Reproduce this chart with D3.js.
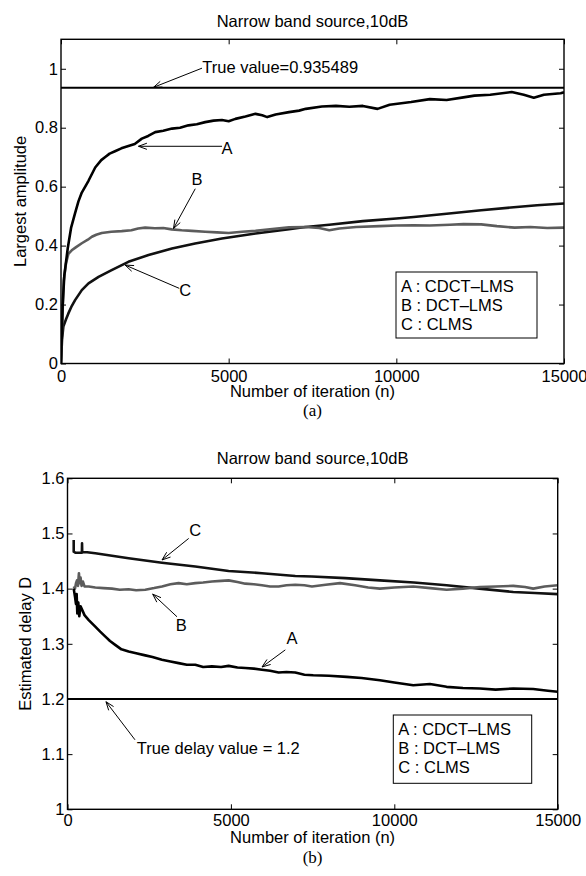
<!DOCTYPE html>
<html><head><meta charset="utf-8">
<script src="https://cdn.jsdelivr.net/npm/d3@7"></script>
<style>
html,body{margin:0;padding:0;background:#fff;}
svg text{font-family:"Liberation Sans",Arial,Helvetica,sans-serif;}
</style></head>
<body>
<svg id="c" width="586" height="876"></svg>
<script>
// ---------- DATA ----------
const chartTitle = "Narrow band source,10dB";
const xLabel = "Number of iteration (n)";
const xTicks = [0, 5000, 10000, 15000];
const legendLabels = ["A : CDCT\u2013LMS", "B : DCT\u2013LMS", "C : CLMS"];

// (a) Largest amplitude
const topYTicks = [0, 0.2, 0.4, 0.6, 0.8, 1];
const topTrueValue = 0.935489;
const topA_n = [0,50,100,200,300,420,520,620,820,1020,1200,1310,1450,1610,1800,2010,2200,2410,2600,2810,3050,3310,3550,3800,4050,4300,4550,4800,5000,5200,5500,5800,6000,6150,6400,6800,7100,7300,7780,8200,8600,9000,9440,9800,10440,11000,11500,12000,12330,12800,13440,13800,14100,14400,14900,15000];
const topA_v = [0,0.2,0.3,0.39,0.46,0.51,0.55,0.58,0.62,0.665,0.69,0.70,0.712,0.72,0.73,0.738,0.745,0.763,0.772,0.785,0.79,0.797,0.80,0.808,0.812,0.819,0.824,0.826,0.822,0.83,0.838,0.847,0.842,0.836,0.845,0.853,0.858,0.864,0.872,0.874,0.871,0.874,0.864,0.878,0.887,0.897,0.894,0.903,0.909,0.912,0.921,0.912,0.902,0.912,0.917,0.92];
const topB_n = [0,40,80,150,220,320,450,620,800,920,1050,1215,1500,1810,2100,2300,2510,2800,3050,3300,3600,3900,4300,4650,5000,5400,5800,6300,6800,7290,7700,8000,8300,8800,9500,10000,10520,11000,11600,12000,12530,13000,13530,14000,14500,15000];
const topB_v = [0,0.15,0.28,0.34,0.372,0.384,0.395,0.408,0.42,0.43,0.437,0.443,0.447,0.449,0.452,0.458,0.461,0.459,0.46,0.455,0.452,0.45,0.447,0.445,0.443,0.447,0.45,0.456,0.462,0.463,0.46,0.452,0.458,0.463,0.466,0.468,0.469,0.468,0.471,0.473,0.472,0.466,0.461,0.463,0.46,0.461];
const topC_n = [0,30,70,150,220,320,420,620,820,1120,1510,2010,2610,3310,4000,4800,5800,6800,7290,8000,9000,10000,10520,11500,12530,13500,14200,15000];
const topC_v = [0,0.08,0.125,0.15,0.17,0.195,0.215,0.249,0.272,0.294,0.317,0.345,0.368,0.39,0.407,0.424,0.441,0.456,0.463,0.471,0.483,0.492,0.497,0.508,0.52,0.53,0.537,0.543];

// (b) Estimated delay D
const botYTicks = [1, 1.1, 1.2, 1.3, 1.4, 1.5, 1.6];
const botTrueValue = 1.2;
const botA_n = [190,230,260,280,300,330,360,400,445,520,650,850,1000,1160,1300,1460,1650,1870,2100,2380,2600,2890,3150,3400,3650,3910,4150,4420,4700,4930,5200,5440,5700,5950,6200,6460,6700,6970,7250,7520,8000,8540,9000,9560,10000,10580,11090,11600,12100,12620,13100,13640,14250,14700,15000];
const botA_v = [1.40,1.385,1.372,1.39,1.355,1.375,1.35,1.368,1.362,1.352,1.343,1.331,1.322,1.313,1.305,1.298,1.29,1.286,1.283,1.279,1.276,1.271,1.268,1.265,1.262,1.262,1.258,1.259,1.258,1.26,1.257,1.256,1.255,1.253,1.251,1.248,1.249,1.248,1.244,1.243,1.242,1.240,1.238,1.234,1.23,1.225,1.227,1.222,1.22,1.219,1.217,1.219,1.218,1.215,1.213];
const botB_n = [190,230,260,290,320,350,370,400,430,470,520,650,850,1100,1360,1600,1870,2100,2380,2650,2890,3150,3400,3650,3910,4150,4420,4700,4930,5200,5440,5700,5950,6200,6460,6700,6970,7250,7480,7900,8340,8800,9200,9560,10000,10580,11100,11600,12100,12620,13100,13640,14000,14250,14600,15000];
const botB_v = [1.404,1.40,1.41,1.415,1.405,1.428,1.41,1.42,1.405,1.413,1.404,1.404,1.402,1.401,1.40,1.398,1.399,1.397,1.398,1.401,1.404,1.408,1.41,1.408,1.41,1.411,1.413,1.414,1.415,1.412,1.409,1.408,1.406,1.404,1.404,1.406,1.407,1.406,1.404,1.407,1.41,1.406,1.402,1.40,1.402,1.404,1.401,1.398,1.40,1.403,1.404,1.405,1.403,1.40,1.404,1.406];
const botC_n = [190,190,250,440,445,450,600,850,1870,2890,3910,4930,5950,6970,7480,8500,9560,10600,11600,12600,13640,14300,15000];
const botC_v = [1.488,1.467,1.465,1.465,1.482,1.466,1.466,1.464,1.455,1.447,1.440,1.432,1.428,1.423,1.422,1.419,1.415,1.411,1.406,1.40,1.394,1.392,1.39];

// annotations (data coordinates)
const topNotes = [
  {text:"True value=0.935489", tx:4213, ty:0.984, anchor:"start", ax:4204, ay:1.002, hx:2758, hy:0.937},
  {text:"A", tx:4951, ty:0.732, anchor:"middle", ax:4802, ay:0.737, hx:2310, hy:0.737},
  {text:"B", tx:4055, ty:0.627, anchor:"middle", ax:4004, ay:0.593, hx:3355, hy:0.458},
  {text:"C", tx:3705, ty:0.249, anchor:"middle", ax:3526, ay:0.255, hx:1912, hy:0.334}
];
const botNotes = [
  {text:"C", tx:3911, ty:1.506, anchor:"middle", ax:3709, ay:1.491, hx:2892, hy:1.452},
  {text:"B", tx:3482, ty:1.334, anchor:"middle", ax:3351, ay:1.349, hx:2607, hy:1.390},
  {text:"A", tx:6870, ty:1.310, anchor:"middle", ax:6665, ay:1.289, hx:5952, hy:1.258},
  {text:"True delay value = 1.2", tx:2117, ty:1.100, anchor:"start", ax:2065, ay:1.126, hx:1178, hy:1.195}
];

// ---------- DRAW ----------
const svg = d3.select("#c");
const FS = 16.5;
const zip = (n, v) => n.map((d, i) => [d, v[i]]);

function panel(cfg) {
  const {L, R, T, B, yDomain, yTicks, yFmt, ylabel, ylabelX, titleY, xTickY, xLabelY, caption, captionY,
         series, trueValue, notes, legend} = cfg;
  const x = d3.scaleLinear().domain([0, 15000]).range([L, R]);
  const y = d3.scaleLinear().domain(yDomain).range([B, T]);
  const g = svg.append("g");

  g.append("text").attr("x", (L + R) / 2).attr("y", titleY).attr("text-anchor", "middle")
    .attr("font-size", FS).text(chartTitle);

  const cid = "clip" + Math.round(T);
  svg.append("clipPath").attr("id", cid).append("rect")
    .attr("x", L).attr("y", T).attr("width", R - L).attr("height", B - T);

  g.append("line").attr("x1", L).attr("x2", R).attr("y1", y(trueValue)).attr("y2", y(trueValue))
    .attr("stroke", "#000").attr("stroke-width", 2);

  const line = d3.line().x(d => x(d[0])).y(d => y(d[1]));
  series.forEach(s => {
    g.append("path").datum(s.data).attr("d", line).attr("fill", "none")
      .attr("stroke", s.color).attr("stroke-width", 2.6).attr("stroke-linejoin", "round")
      .attr("clip-path", `url(#${cid})`);
  });

  const tk = 5;
  const ax = g.append("g").attr("font-size", FS);
  ax.append("g").attr("class", "xb").attr("transform", `translate(0,${B})`)
    .call(d3.axisBottom(x).tickValues(xTicks).tickSize(-tk).tickFormat(d3.format("d")))
    .call(s => { s.select(".domain").remove(); s.selectAll("text").attr("font-size", FS).attr("fill", "#000")
      .attr("font-family", '"Liberation Sans",Arial,sans-serif').attr("y", xTickY - B).attr("dy", null);
      s.selectAll("line").attr("stroke", "#000"); });
  ax.append("g").attr("transform", `translate(0,${T})`)
    .call(d3.axisTop(x).tickValues(xTicks).tickSize(-tk).tickFormat(""))
    .call(s => { s.select(".domain").remove(); s.selectAll("line").attr("stroke", "#000"); });
  ax.append("g").attr("transform", `translate(${L},0)`)
    .call(d3.axisLeft(y).tickValues(yTicks).tickSize(-tk).tickPadding(3).tickFormat(yFmt))
    .call(s => { s.select(".domain").remove(); s.selectAll("text").attr("font-size", FS).attr("fill", "#000")
      .attr("font-family", '"Liberation Sans",Arial,sans-serif'); s.selectAll("line").attr("stroke", "#000"); });
  ax.append("g").attr("transform", `translate(${R},0)`)
    .call(d3.axisRight(y).tickValues(yTicks).tickSize(-tk).tickFormat(""))
    .call(s => { s.select(".domain").remove(); s.selectAll("line").attr("stroke", "#000"); });

  g.append("rect").attr("x", L).attr("y", T).attr("width", R - L).attr("height", B - T)
    .attr("fill", "none").attr("stroke", "#000").attr("stroke-width", 1.4);

  g.append("text").attr("x", (L + R) / 2).attr("y", xLabelY).attr("text-anchor", "middle")
    .attr("font-size", FS).text(xLabel);
  g.append("text").attr("transform", `translate(${ylabelX},${(T + B) / 2}) rotate(-90)`)
    .attr("text-anchor", "middle").attr("font-size", FS).text(ylabel);
  g.append("text").attr("x", (L + R) / 2).attr("y", captionY).attr("text-anchor", "middle")
    .attr("font-size", 17).style("font-family", '"Liberation Serif","Times New Roman",serif').text(caption);

  notes.forEach(n => {
    const t = g.append("text").attr("x", x(n.tx)).attr("y", y(n.ty)).attr("text-anchor", n.anchor)
      .attr("font-size", FS).text(n.text);
    if (n.anchor === "middle") t.attr("dominant-baseline", "central");
    const x1 = x(n.ax), y1 = y(n.ay), x2 = x(n.hx), y2 = y(n.hy);
    g.append("line").attr("x1", x1).attr("y1", y1).attr("x2", x2).attr("y2", y2)
      .attr("stroke", "#000").attr("stroke-width", 1);
    const ang = Math.atan2(y1 - y2, x1 - x2), hl = 9, ha = 0.35;
    [ang - ha, ang + ha].forEach(a => {
      g.append("line").attr("x1", x2).attr("y1", y2)
        .attr("x2", x2 + hl * Math.cos(a)).attr("y2", y2 + hl * Math.sin(a))
        .attr("stroke", "#000").attr("stroke-width", 1);
    });
  });

  g.append("rect").attr("x", legend.x).attr("y", legend.y).attr("width", legend.w).attr("height", legend.h)
    .attr("fill", "#fff").attr("stroke", "#000").attr("stroke-width", 1);
  legendLabels.forEach((l, i) => {
    g.append("text").attr("x", legend.x + 5).attr("y", legend.y + 19.5 + i * 19.2)
      .attr("font-size", FS).text(l);
  });
}

panel({
  L: 61, R: 564, T: 39.3, B: 363.5, yDomain: [0, 1.1], yTicks: topYTicks, yFmt: d3.format("~g"),
  ylabel: "Largest amplitude", ylabelX: 26, titleY: 27, xTickY: 382, xLabelY: 396.5,
  caption: "(a)", captionY: 416,
  series: [
    {data: zip(topC_n, topC_v), color: "#111"},
    {data: zip(topB_n, topB_v), color: "#5c5c5c"},
    {data: zip(topA_n, topA_v), color: "#000"}
  ],
  trueValue: topTrueValue, notes: topNotes,
  legend: {x: 396, y: 272, w: 141, h: 66}
});

panel({
  L: 67.5, R: 557.7, T: 478.3, B: 809.3, yDomain: [1, 1.6], yTicks: botYTicks, yFmt: d3.format(".1~f"),
  ylabel: "Estimated delay D", ylabelX: 31, titleY: 463.5, xTickY: 826.5, xLabelY: 843,
  caption: "(b)", captionY: 863,
  series: [
    {data: zip(botC_n, botC_v), color: "#111"},
    {data: zip(botB_n, botB_v), color: "#5c5c5c"},
    {data: zip(botA_n, botA_v), color: "#000"}
  ],
  trueValue: botTrueValue, notes: botNotes,
  legend: {x: 393.3, y: 715, w: 138.4, h: 68.3}
});
</script>
</body></html>
